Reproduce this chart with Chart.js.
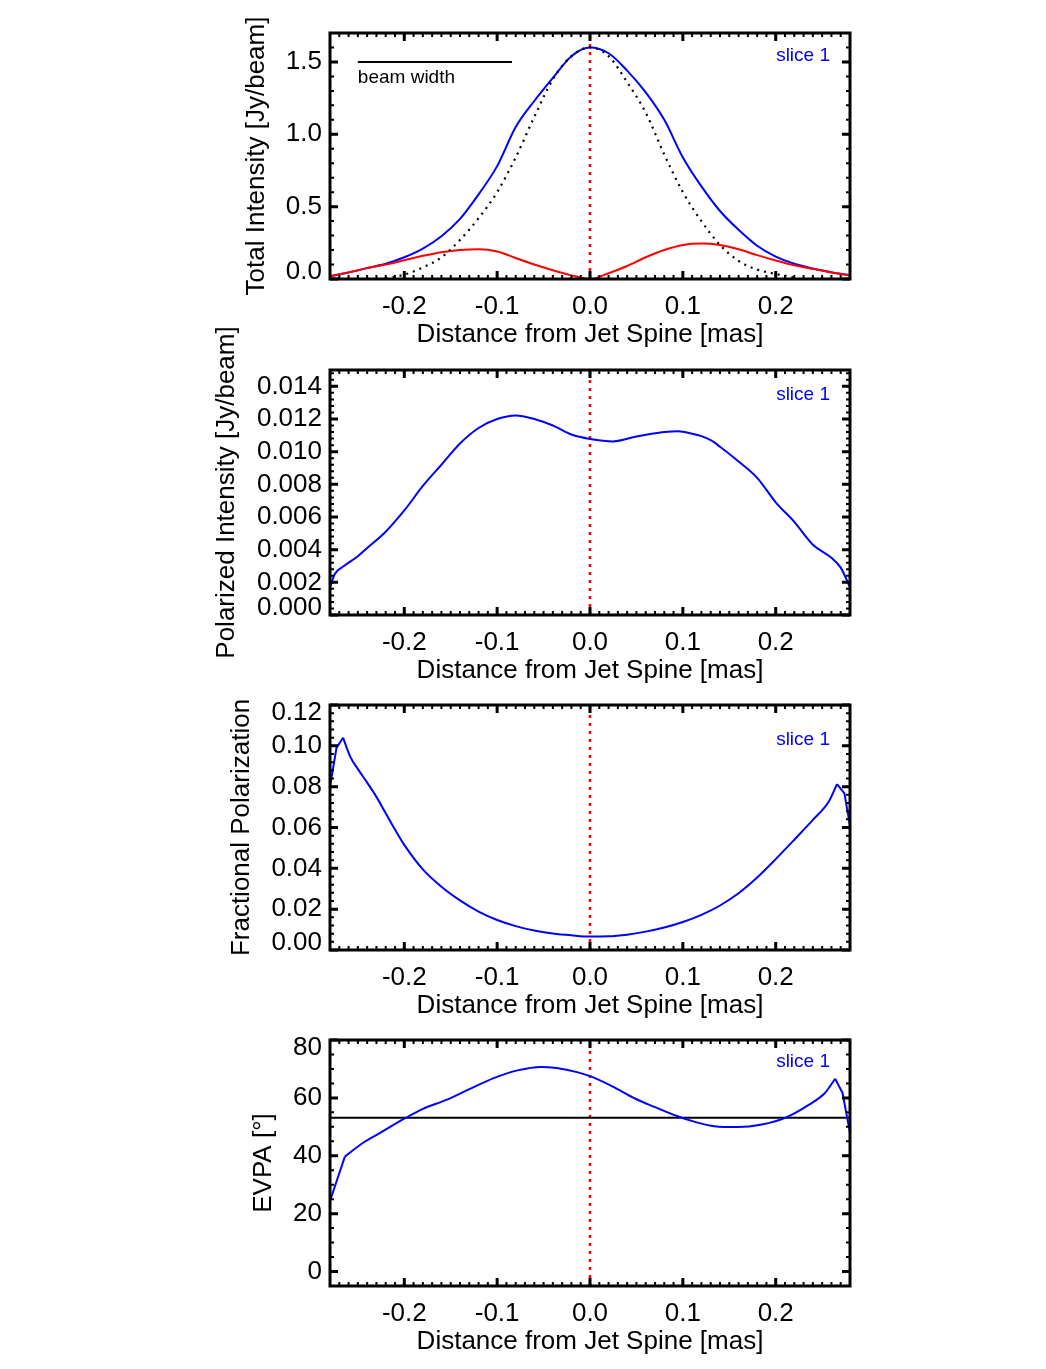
<!DOCTYPE html>
<html><head><meta charset="utf-8">
<script src="https://cdn.jsdelivr.net/npm/chart.js@4.4.0/dist/chart.umd.min.js"></script>
<style>
html,body{margin:0;padding:0;background:#fff;}
#wrap{position:relative;width:1046px;height:1369px;background:#fff;overflow:hidden;}
canvas{position:absolute;left:0;}
</style></head><body>
<div id="wrap">
<canvas id="c1"></canvas>
<canvas id="c2"></canvas>
<canvas id="c3"></canvas>
<canvas id="c4"></canvas>
</div>
<script>
// ---------- data ----------
const xTitle = 'Distance from Jet Spine [mas]';
const xTickValues = [-0.2, -0.1, 0.0, 0.1, 0.2];
const spineX = 0.0;
const sliceLabel = 'slice 1';

// Panel 1: total intensity
const tiX = [-0.28,-0.26,-0.24,-0.22,-0.20,-0.18,-0.16,-0.14,-0.12,-0.10,-0.08,-0.06,-0.04,-0.02,0.00,0.02,0.04,0.06,0.08,0.10,0.12,0.14,0.16,0.18,0.20,0.22,0.24,0.26,0.28];
const tiTotal = [0.020,0.045,0.075,0.105,0.150,0.210,0.295,0.415,0.585,0.780,1.050,1.230,1.390,1.540,1.600,1.560,1.440,1.290,1.100,0.840,0.640,0.470,0.340,0.230,0.155,0.105,0.072,0.047,0.025];
const tiResidual = [0.020,0.045,0.075,0.100,0.130,0.160,0.185,0.200,0.205,0.190,0.145,0.100,0.060,0.025,0.000,0.040,0.090,0.150,0.200,0.235,0.245,0.235,0.205,0.165,0.128,0.095,0.070,0.045,0.025];
const beamX = [-0.22,-0.20,-0.18,-0.16,-0.14,-0.12,-0.10,-0.08,-0.06,-0.04,-0.02,0.00,0.02,0.04,0.06,0.08,0.10,0.12,0.14,0.16,0.18,0.20,0.22];
const beamProfile = [0.005,0.030,0.080,0.150,0.270,0.420,0.600,0.840,1.120,1.380,1.540,1.600,1.540,1.360,1.150,0.860,0.600,0.400,0.235,0.125,0.065,0.035,0.010];
const beamBarX = [-0.25, -0.084];
const beamBarY = 1.5;
const tiTicks = [0.0, 0.5, 1.0, 1.5];

// Panel 2: polarized intensity
const piX = [-0.28,-0.275,-0.265,-0.25,-0.24,-0.22,-0.20,-0.18,-0.16,-0.14,-0.12,-0.10,-0.08,-0.06,-0.04,-0.02,0.00,0.025,0.05,0.065,0.08,0.095,0.11,0.12,0.13,0.14,0.16,0.18,0.20,0.22,0.24,0.26,0.27,0.28];
const piValues = [0.0017,0.0025,0.0030,0.0036,0.0041,0.0051,0.0064,0.0079,0.0092,0.0105,0.01145,0.0120,0.01222,0.0120,0.01160,0.01105,0.01078,0.01063,0.01093,0.01108,0.0112,0.01125,0.0111,0.01095,0.0107,0.0103,0.0094,0.0084,0.0069,0.0057,0.0043,0.0035,0.0029,0.0017];
const piTicks = [0.000,0.002,0.004,0.006,0.008,0.010,0.012,0.014];

// Panel 3: fractional polarization
const fpX = [-0.28,-0.273,-0.266,-0.258,-0.249,-0.24,-0.23,-0.22,-0.21,-0.20,-0.18,-0.16,-0.14,-0.12,-0.10,-0.08,-0.06,-0.04,-0.02,0.00,0.02,0.04,0.06,0.08,0.10,0.12,0.14,0.16,0.18,0.20,0.22,0.24,0.257,0.266,0.274,0.28];
const fpValues = [0.080,0.099,0.104,0.0945,0.088,0.0820,0.0750,0.0670,0.0590,0.0515,0.0395,0.031,0.0243,0.0188,0.0147,0.0117,0.0095,0.0081,0.0072,0.0066,0.0067,0.0075,0.0090,0.0110,0.0137,0.0172,0.0218,0.0278,0.0355,0.0445,0.0540,0.0637,0.0726,0.0812,0.0767,0.0610];
const fpEdges = [2, 33];   // indices of the sharp edge peaks
const fpTicks = [0.00,0.02,0.04,0.06,0.08,0.10,0.12];

// Panel 4: EVPA
const evX = [-0.28,-0.271,-0.264,-0.247,-0.226,-0.20,-0.18,-0.154,-0.13,-0.103,-0.078,-0.053,-0.036,-0.014,0.00,0.024,0.049,0.07,0.092,0.113,0.134,0.159,0.185,0.21,0.236,0.253,0.264,0.272,0.28];
const evValues = [24.4,33.0,39.7,43.9,47.9,52.8,56.2,59.4,63.0,66.9,69.5,70.7,70.3,68.9,67.5,64.0,59.7,56.8,53.9,51.7,50.2,49.9,50.8,53.1,57.7,61.7,66.6,61.7,47.9];
const evEdges = [2, 26];
const evpaMean = 53.1;
const evTicks = [0, 20, 40, 60, 80];

// ---------- helpers ----------
const FONT = "'Liberation Sans', Arial, Helvetica, sans-serif";
Chart.defaults.font.family = FONT;
Chart.defaults.color = '#000';
const pts = (xs, ys) => xs.map((x, i) => ({x, y: ys[i]}));

const framePlugin = {
  id: 'frame',
  afterDatasetsDraw(chart) {
    const o = chart.options.plugins.frame;
    const {ctx, chartArea: a, scales: {x, y}} = chart;
    ctx.save();
    ctx.strokeStyle = '#000';
    ctx.lineCap = 'butt';
    const xt = (v, len, w) => {
      const p = x.getPixelForValue(v);
      ctx.lineWidth = w; ctx.beginPath();
      ctx.moveTo(p, a.bottom); ctx.lineTo(p, a.bottom - len);
      ctx.moveTo(p, a.top); ctx.lineTo(p, a.top + len);
      ctx.stroke();
    };
    const yt = (v, len, w) => {
      const p = y.getPixelForValue(v);
      ctx.lineWidth = w; ctx.beginPath();
      ctx.moveTo(a.left, p); ctx.lineTo(a.left + len, p);
      ctx.moveTo(a.right, p); ctx.lineTo(a.right - len, p);
      ctx.stroke();
    };
    const minorLoop = (scale, step, fn) => {
      const i0 = Math.ceil(scale.min / step - 1e-6), i1 = Math.floor(scale.max / step + 1e-6);
      for (let i = i0; i <= i1; i++) fn(i * step, 4, 2);
    };
    minorLoop(x, o.xMinor, xt);
    minorLoop(y, o.yMinor, yt);
    x.ticks.forEach(t => xt(t.value, 8, 3));
    y.ticks.forEach(t => yt(t.value, 8, 3));
    ctx.lineWidth = 3;
    ctx.strokeRect(a.left, a.top, a.right - a.left, a.bottom - a.top);
    ctx.font = '19px ' + FONT;
    ctx.fillStyle = '#0000ff';
    ctx.textAlign = 'right';
    ctx.textBaseline = 'middle';
    ctx.fillText(sliceLabel, a.right - 20, a.top + o.sliceDy);
    if (o.beam) {
      ctx.fillStyle = '#000';
      ctx.textAlign = 'left';
      ctx.fillText('beam width', x.getPixelForValue(beamBarX[0]), y.getPixelForValue(beamBarY) + 16);
    }
    ctx.restore();
  }
};

const edgeOf = (v, s) => Math.abs(v - s.min) < 1e-9 ? 'min' : (Math.abs(v - s.max) < 1e-9 ? 'max' : null);

function makePanel(id, p) {
  const plotTop = p.plotTop, plotH = p.plotH, padTop = p.padTop;
  const cv = document.getElementById(id);
  const H = padTop + plotH + 71;
  cv.width = 1046; cv.height = H;
  cv.style.width = '1046px'; cv.style.height = H + 'px';
  cv.style.top = (plotTop - padTop) + 'px';
  const tickSetter = vals => s => { s.ticks = vals.filter(v => v >= s.min - 1e-9 && v <= s.max + 1e-9).map(v => ({value: v})); };
  new Chart(cv, {
    type: 'line',
    data: {datasets: p.datasets},
    options: {
      responsive: false, animation: false, devicePixelRatio: 1,
      layout: {padding: {top: padTop, right: 196, bottom: 0, left: p.padLeft}},
      elements: {point: {radius: 0}, line: {borderWidth: 2}},
      plugins: {legend: {display: false}, tooltip: {enabled: false},
        frame: {xMinor: 0.01, yMinor: p.yMinor, sliceDy: p.sliceDy, beam: !!p.beam}},
      scales: {
        x: {type: 'linear', min: -0.28, max: 0.28,
          afterBuildTicks: tickSetter(xTickValues),
          afterFit: s => { s.height = 71; },
          grid: {display: false, drawTicks: false}, border: {display: false},
          ticks: {padding: 12, font: {size: 26}, color: '#000', maxRotation: 0, autoSkip: false, callback: v => Number(v).toFixed(1)},
          title: {display: true, text: xTitle, font: {size: 26}, color: '#000', padding: {top: 0, bottom: 0}}},
        y: {type: 'linear', min: p.yMin, max: p.yMax,
          afterBuildTicks: tickSetter(p.yTicks),
          afterFit: s => { s.width = 330 - p.padLeft; },
          grid: {display: false, drawTicks: false}, border: {display: false},
          ticks: {padding: 8, color: '#000', autoSkip: false,
            font: c => {
              const e = (c.tick && c.scale) ? edgeOf(c.tick.value, c.scale) : null;
              return {size: 26, lineHeight: e ? '15px' : 1.2};
            },
            callback: function (v) {
              const t = Number(v).toFixed(p.yDec);
              const e = edgeOf(v, this);
              return e === 'min' ? [t, ''] : (e === 'max' ? ['', t] : t);
            }},
          title: {display: true, text: p.yTitle, font: {size: 26}, color: '#000', padding: {top: 0, bottom: 0}}}
      }
    },
    plugins: [framePlugin]
  });
}

const spineLine = (ymin, ymax) => ({data: [{x: spineX, y: ymin}, {x: spineX, y: ymax}], borderColor: '#ff0000', borderWidth: 2.5, borderDash: [3, 5], pointRadius: 0, tension: 0});
const curve = (xs, ys, color, extra) => Object.assign({data: pts(xs, ys), borderColor: color, borderWidth: 2, pointRadius: 0, cubicInterpolationMode: 'monotone'}, extra || {});
// smooth middle part + straight segments out to the sharp edge peaks
const edgedCurve = (xs, ys, edges, color) => [
  curve(xs.slice(0, edges[0] + 1), ys.slice(0, edges[0] + 1), color, {cubicInterpolationMode: 'default', tension: 0}),
  curve(xs.slice(edges[0], edges[1] + 1), ys.slice(edges[0], edges[1] + 1), color),
  curve(xs.slice(edges[1]), ys.slice(edges[1]), color, {cubicInterpolationMode: 'default', tension: 0})
];

makePanel('c1', {
  plotTop: 33, plotH: 246, padTop: 33,
  padLeft: 241, yMin: 0, yMax: 1.70, yTicks: tiTicks, yDec: 1, yMinor: 0.1, sliceDy: 23, beam: true,
  yTitle: 'Total Intensity [Jy/beam]',
  datasets: [
    curve(beamX, beamProfile, '#000', {borderDash: [2, 5], borderWidth: 2.2}),
    curve(tiX, tiResidual, '#ff0000'),
    curve(tiX, tiTotal, '#0000ff'),
    {data: [{x: beamBarX[0], y: beamBarY}, {x: beamBarX[1], y: beamBarY}], borderColor: '#000', borderWidth: 2, pointRadius: 0},
    spineLine(0, 1.70)
  ]
});
makePanel('c2', {
  plotTop: 370, plotH: 245, padTop: 60,
  padLeft: 211, yMin: 0, yMax: 0.015, yTicks: piTicks, yDec: 3, yMinor: 0.0004, sliceDy: 25,
  yTitle: 'Polarized Intensity [Jy/beam]',
  datasets: [curve(piX, piValues, '#0000ff'), spineLine(0, 0.015)]
});
makePanel('c3', {
  plotTop: 705, plotH: 245, padTop: 60,
  padLeft: 226, yMin: 0, yMax: 0.12, yTicks: fpTicks, yDec: 2, yMinor: 0.004, sliceDy: 35,
  yTitle: 'Fractional Polarization',
  datasets: [...edgedCurve(fpX, fpValues, fpEdges, '#0000ff'), spineLine(0, 0.12)]
});
makePanel('c4', {
  plotTop: 1040, plotH: 246, padTop: 60,
  padLeft: 248, yMin: -5, yMax: 80, yTicks: evTicks, yDec: 0, yMinor: 5, sliceDy: 22,
  yTitle: 'EVPA [°]',
  datasets: [
    ...edgedCurve(evX, evValues, evEdges, '#0000ff'),
    {data: [{x: -0.28, y: evpaMean}, {x: 0.28, y: evpaMean}], borderColor: '#000', borderWidth: 2, pointRadius: 0},
    spineLine(-5, 80)
  ]
});
</script>
</body></html>
